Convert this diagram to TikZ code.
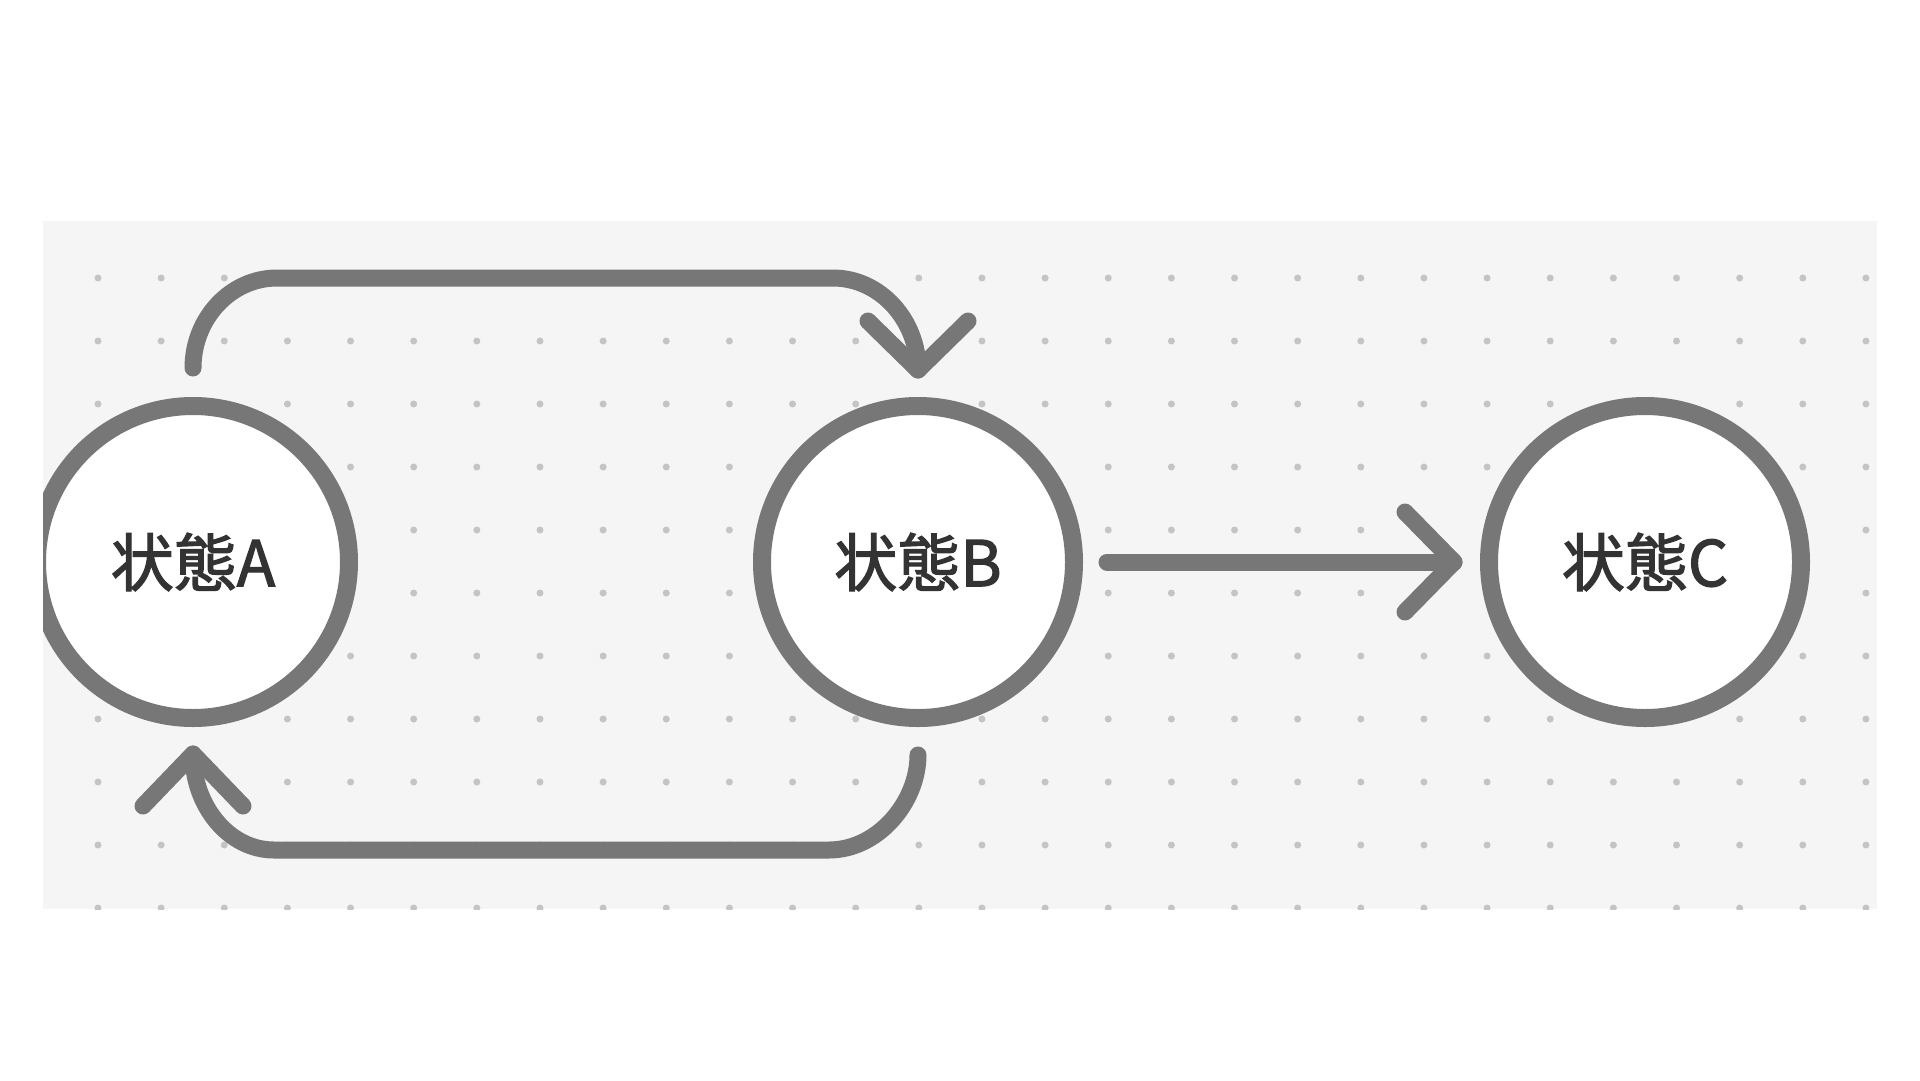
\documentclass[tikz,border=0pt]{standalone}
\usepackage{fontspec}
\setmainfont{Noto Sans CJK JP}
\newfontfamily\lblfont{Noto Sans CJK JP}[FakeBold=2]
\usetikzlibrary{calc}
\definecolor{edgegray}{HTML}{777777}
\definecolor{bggray}{HTML}{F5F5F5}
\definecolor{dotgray}{HTML}{C4C4C4}
\definecolor{txtgray}{HTML}{333333}
\begin{document}
\begin{tikzpicture}[x=1pt,y=-1pt,
  state/.style={circle,draw=edgegray,fill=white,line width=18pt,minimum size=312pt,inner sep=0pt,text=txtgray,font=\lblfont\fontsize{63}{63}\selectfont},
  conn/.style={draw=edgegray,line width=17pt,line cap=round,line join=round}]
\useasboundingbox (0,0) rectangle (1920,1080);
\fill[white] (0,0) rectangle (1920,1080);
\fill[bggray] (43,221) rectangle (1877,909);
\begin{scope}
\clip (43,221) rectangle (1877,909);
\foreach \i in {0,...,28}{\foreach \j in {0,...,10}{\fill[dotgray] ({98+63.14*\i},{278+63*\j}) circle (3.5);}}
\node[state] (A) at (193,562) {状態A};
\node[state] (B) at (918,562) {状態B};
\node[state] (C) at (1645,562) {状態C};
\coordinate (tipB) at ($(B.north)+(0,-27)$);
\coordinate (tipA) at ($(A.south)+(0,27)$);
\coordinate (tipC) at ($(C.west)+(-26,0)$);
% A -> B (top)
\draw[conn] ($(A.north)+(0,-29)$) .. controls (193,318) and (231,278) .. (277,278) -- (833,278) .. controls (880,278) and (918,320) .. (tipB);
\draw[conn] ($(tipB)+(-50,-49)$) -- (tipB) -- ($(tipB)+(50,-49)$);
% B -> A (bottom)
\draw[conn] ($(B.south)+(0,28)$) .. controls (918,802) and (878,850) .. (829,850) -- (274,850) .. controls (229,850) and (193,806) .. (tipA);
\draw[conn] ($(tipA)+(-50,52)$) -- (tipA) -- ($(tipA)+(50,52)$);
% B -> C
\draw[conn] ($(B.east)+(24,0)$) -- (tipC);
\draw[conn] ($(tipC)+(-49,-50)$) -- (tipC) -- ($(tipC)+(-49,50)$);
\end{scope}
\end{tikzpicture}
\end{document}
